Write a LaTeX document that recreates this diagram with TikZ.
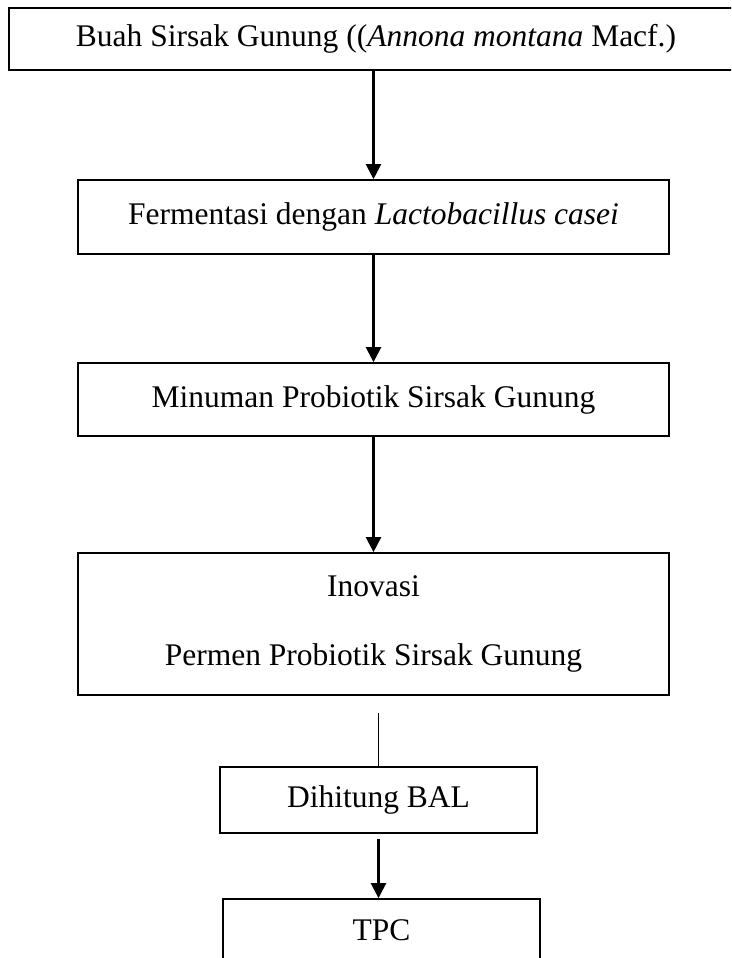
\documentclass[tikz,border=0pt]{standalone}
\usepackage{fontspec}
\setmainfont{Liberation Serif}
\usetikzlibrary{arrows.meta}
\begin{document}
\begin{tikzpicture}[x=1pt, y=-1pt, font=\fontsize{31.5}{38}\selectfont,
    box/.style={draw, line width=1.7pt, inner sep=0pt, align=center},
    flow/.style={line width=2.3pt, -{Triangle[width=15pt,length=15pt]}}]
    \useasboundingbox (0,0) rectangle (731,958);
    \clip (0,0) rectangle (731,958);

    % ─────────── Kotak utama ─────────────────────────────────────────
    \node[box, minimum width=734pt, minimum height=62pt] (buah) at (376,39)
        {Buah Sirsak Gunung ((\textit{Annona montana} Macf.)};
    \node[box, minimum width=591pt, minimum height=74pt] (ferm) at (373.5,217)
        {Fermentasi dengan \textit{Lactobacillus casei}};
    \node[box, minimum width=591pt, minimum height=73pt] (minum) at (373.5,399.5)
        {Minuman Probiotik Sirsak Gunung};
    \node[box, minimum width=591pt, minimum height=142pt] (inov) at (373.5,624)
        {Inovasi\\[31pt]Permen Probiotik Sirsak Gunung};

    % ─────────── Kotak uji ───────────────────────────────────────────
    \node[box, minimum width=317pt, minimum height=66pt] (bal) at (378.5,800)
        {Dihitung BAL};
    \node[box, minimum width=317pt, minimum height=62pt] (tpc) at (381.5,930)
        {TPC};

    % ─────────── Panah ───────────────────────────────────────────────
    \draw[flow] (buah.south -| ferm.north) -- (ferm.north);
    \draw[flow] (ferm.south) -- (minum.north);
    \draw[flow] (minum.south) -- (inov.north);
    \coordinate (putus) at ([yshift=-17pt]inov.south -| bal.north);
    \draw[line width=1.7pt] (putus) -- (bal.north);
    \draw[flow] ([yshift=-5pt]bal.south) -- (bal.south |- tpc.north);
\end{tikzpicture}
\end{document}
